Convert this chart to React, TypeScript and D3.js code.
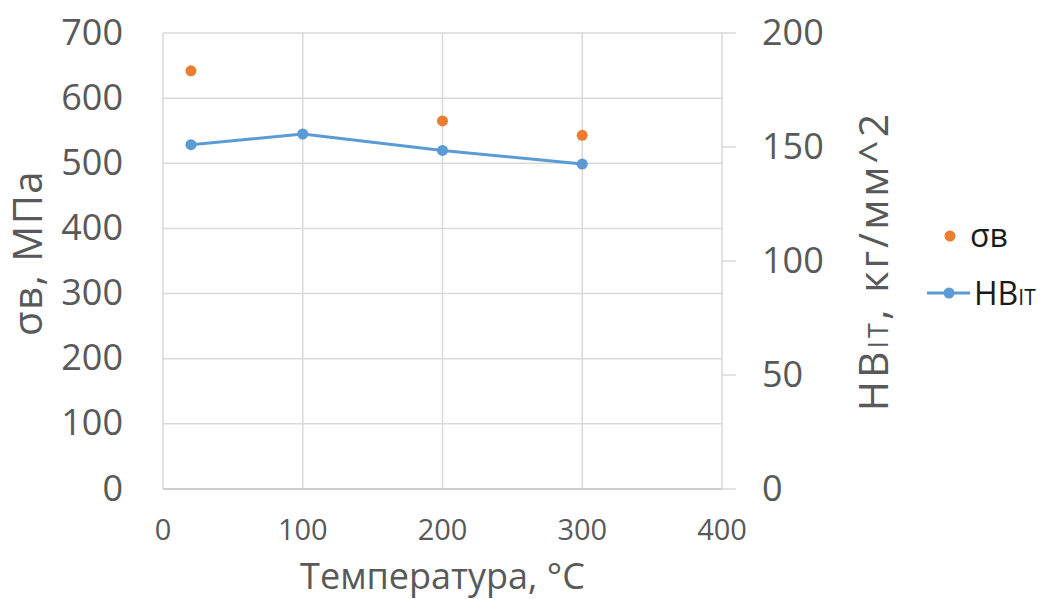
import * as d3 from "d3";
import React, { useEffect, useRef } from "react";

// data
const temps = [20, 100, 200, 300];
const sigmaTemps = [20, 200, 300];
const sigmaB = [642, 565, 543];
const hbit = [151, 155.7, 148.5, 142.5];

const xTicks = [0, 100, 200, 300, 400];
const yLeftTicks = [0, 100, 200, 300, 400, 500, 600, 700];
const yRightTicks = [0, 50, 100, 150, 200];

const ORANGE = "#ED7D31";
const BLUE = "#5B9BD5";
const GRID = "#d9d9d9";
const TEXT = "#595959";
const FONT = "'Open Sans', 'Noto Sans', sans-serif";

const W = 1040;
const H = 599;

const App: React.FC = () => {
  const svgRef = useRef<SVGSVGElement>(null);

  useEffect(() => {
    if (!svgRef.current) return;
    const margin = { top: 33, right: 318, bottom: 110, left: 163 };
    const pw = W - margin.left - margin.right;
    const ph = H - margin.top - margin.bottom;

    const svg = d3.select(svgRef.current);
    svg.selectAll("*").remove();
    svg.attr("width", W).attr("height", H).style("font-family", FONT);

    const g = svg
      .append("g")
      .attr("transform", `translate(${margin.left},${margin.top})`);

    const x = d3.scaleLinear().domain([0, 400]).range([0, pw]);
    const yL = d3.scaleLinear().domain([0, 700]).range([ph, 0]);
    const yR = d3.scaleLinear().domain([0, 200]).range([ph, 0]);

    // horizontal grid
    g.append("g")
      .selectAll("line")
      .data(yLeftTicks)
      .join("line")
      .attr("x1", 0)
      .attr("x2", pw)
      .attr("y1", (d) => yL(d))
      .attr("y2", (d) => yL(d))
      .attr("stroke", GRID)
      .attr("stroke-width", 1.5);

    // vertical grid
    g.append("g")
      .selectAll("line")
      .data(xTicks)
      .join("line")
      .attr("x1", (d) => x(d))
      .attr("x2", (d) => x(d))
      .attr("y1", 0)
      .attr("y2", ph)
      .attr("stroke", GRID)
      .attr("stroke-width", 1.5);

    // bottom axis line
    g.append("line")
      .attr("x1", 0)
      .attr("x2", pw)
      .attr("y1", ph)
      .attr("y2", ph)
      .attr("stroke", "#cfcfcf")
      .attr("stroke-width", 2);

    // right axis ticks
    g.append("g")
      .selectAll("line")
      .data(yRightTicks)
      .join("line")
      .attr("x1", pw)
      .attr("x2", pw + 14)
      .attr("y1", (d) => yR(d))
      .attr("y2", (d) => yR(d))
      .attr("stroke", GRID)
      .attr("stroke-width", 1.5);

    // left tick labels
    g.append("g")
      .selectAll("text")
      .data(yLeftTicks)
      .join("text")
      .attr("x", -40)
      .attr("y", (d) => yL(d))
      .attr("dy", "0.32em")
      .attr("text-anchor", "end")
      .attr("fill", TEXT)
      .style("font-size", "36px")
      .text((d) => d);

    // right tick labels
    g.append("g")
      .selectAll("text")
      .data(yRightTicks)
      .join("text")
      .attr("x", pw + 40)
      .attr("y", (d) => yR(d))
      .attr("dy", "0.32em")
      .attr("text-anchor", "start")
      .attr("fill", TEXT)
      .style("font-size", "36px")
      .text((d) => d);

    // x tick labels
    g.append("g")
      .selectAll("text")
      .data(xTicks)
      .join("text")
      .attr("x", (d) => x(d))
      .attr("y", ph + 51)
      .attr("text-anchor", "middle")
      .attr("fill", TEXT)
      .style("font-size", "29px")
      .text((d) => d);

    // x title
    g.append("text")
      .attr("x", pw / 2)
      .attr("y", ph + 100)
      .attr("text-anchor", "middle")
      .attr("fill", TEXT)
      .style("font-size", "36px")
      .text("Температура, °C");

    // left title
    g.append("text")
      .attr("transform", `translate(${-121},${ph / 2 - 8}) rotate(-90)`)
      .attr("text-anchor", "middle")
      .attr("fill", TEXT)
      .style("font-size", "40px")
      .style("letter-spacing", "1.5px")
      .text("σв, МПа");

    // right title
    const rt = g
      .append("text")
      .attr("transform", `translate(${pw + 166},${ph / 2}) rotate(-90)`)
      .attr("text-anchor", "middle")
      .attr("fill", TEXT)
      .style("font-size", "41px")
      .style("letter-spacing", "3px");
    rt.append("tspan").text("HB");
    rt.append("tspan").style("font-size", "27px").text("IT");
    rt.append("tspan").text(", кг/мм^2");

    // HBit line
    const line = d3
      .line<number>()
      .x((_, i) => x(temps[i]))
      .y((d) => yR(d));
    g.append("path")
      .datum(hbit)
      .attr("fill", "none")
      .attr("stroke", BLUE)
      .attr("stroke-width", 3)
      .attr("stroke-linejoin", "round")
      .attr("d", line);
    g.append("g")
      .selectAll("circle")
      .data(hbit)
      .join("circle")
      .attr("cx", (_, i) => x(temps[i]))
      .attr("cy", (d) => yR(d))
      .attr("r", 5.5)
      .attr("fill", BLUE);

    // sigma points
    g.append("g")
      .selectAll("circle")
      .data(sigmaB)
      .join("circle")
      .attr("cx", (_, i) => x(sigmaTemps[i]))
      .attr("cy", (d) => yL(d))
      .attr("r", 5.5)
      .attr("fill", ORANGE);

    // legend
    const lg = svg.append("g");
    lg.append("circle")
      .attr("cx", 950)
      .attr("cy", 236)
      .attr("r", 5.5)
      .attr("fill", ORANGE);
    lg.append("text")
      .attr("x", 970)
      .attr("y", 247)
      .attr("fill", "#1a1a1a")
      .style("font-size", "32px")
      .text("σв");
    lg.append("line")
      .attr("x1", 927)
      .attr("x2", 970)
      .attr("y1", 293)
      .attr("y2", 293)
      .attr("stroke", BLUE)
      .attr("stroke-width", 3);
    lg.append("circle")
      .attr("cx", 949)
      .attr("cy", 293)
      .attr("r", 5.5)
      .attr("fill", BLUE);
    const ht = lg
      .append("text")
      .attr("x", 974)
      .attr("y", 305)
      .attr("fill", "#1a1a1a")
      .style("font-size", "32px");
    ht.append("tspan").text("HB");
    ht.append("tspan").style("font-size", "21px").text("IT");
  }, []);

  return <svg ref={svgRef} style={{ position: "absolute", left: 0, top: 0 }} />;
};

export default App;
